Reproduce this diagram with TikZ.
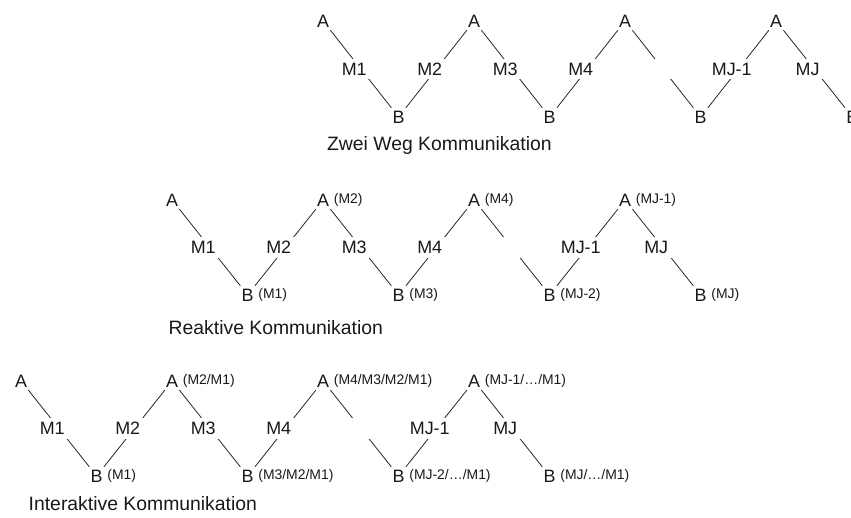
\documentclass[tikz,border=0pt]{standalone}
\usepackage{fontspec}
\setmainfont{Liberation Sans}

\tikzset{
  party/.style={inner sep=2pt, text=black!90, font=\fontsize{13.5}{16}\selectfont},
  msg/.style={midway, xshift=-5pt, fill=white, inner sep=3pt, text=black!90, font=\fontsize{13.5}{16}\selectfont},
  hist/.style={inner sep=1pt, text=black!90, font=\fontsize{10.5}{12}\selectfont},
  rowtitle/.style={anchor=base west, inner sep=0pt, text=black!90, font=\fontsize{14.6}{17}\selectfont},
}

\begin{document}
\begin{tikzpicture}[x=2cm, y=2cm, line width=0.6pt, draw=black!85]
    \useasboundingbox (0,0) rectangle (11.272,-6.861);

    % Zwei Weg
    \node[party] (za1) at (4.28,-0.278) {A};
    \node[party] (zb1) at (5.28,-1.55) {B};
    \node[party] (za2) at (6.28,-0.278) {A};
    \node[party] (zb2) at (7.28,-1.55) {B};
    \node[party] (za3) at (8.28,-0.278) {A};
    \node[party] (zb3) at (9.28,-1.55) {B};
    \node[party] (za4) at (10.28,-0.278) {A};
    \node[party] (zb4) at (11.29,-1.55) {B};

    \draw (za1) -- (zb1) node[msg] (zm1) {M1};
    \draw (zb1) -- (za2) node[msg] (zm2) {M2};
    \draw (za2) -- (zb2) node[msg] (zm3) {M3};
    \draw (zb2) -- (za3) node[msg] (zm4) {M4};
    \draw (za3) -- (zb3) node[msg] (zgap) {\phantom{M5}};
    \draw (zb3) -- (za4) node[msg] (zm5) {MJ-1};
    \draw (za4) -- (zb4) node[msg] (zm6) {MJ};

    \node[rowtitle] (zt) at (4.327,-1.987) {Zwei Weg Kommunikation};

    % Reaktive
    \node[party] (ra1) at (2.28,-2.649) {A};
    \node[party, label={[hist]right:(M1)}] (rb1) at (3.28,-3.907) {B};
    \node[party, label={[hist]right:(M2)}] (ra2) at (4.28,-2.649) {A};
    \node[party, label={[hist]right:(M3)}] (rb2) at (5.28,-3.907) {B};
    \node[party, label={[hist]right:(M4)}] (ra3) at (6.28,-2.649) {A};
    \node[party, label={[hist]right:(MJ-2)}] (rb3) at (7.28,-3.907) {B};
    \node[party, label={[hist]right:(MJ-1)}] (ra4) at (8.28,-2.649) {A};
    \node[party, label={[hist]right:(MJ)}] (rb4) at (9.28,-3.907) {B};

    \draw (ra1) -- (rb1) node[msg] (rm1) {M1};
    \draw (rb1) -- (ra2) node[msg] (rm2) {M2};
    \draw (ra2) -- (rb2) node[msg] (rm3) {M3};
    \draw (rb2) -- (ra3) node[msg] (rm4) {M4};
    \draw (ra3) -- (rb3) node[msg] (rgap) {\phantom{M5}};
    \draw (rb3) -- (ra4) node[msg] (rm5) {MJ-1};
    \draw (ra4) -- (rb4) node[msg] (rm6) {MJ};

    \node[rowtitle] (rt) at (2.229,-4.424) {Reaktive Kommunikation};

    % Interaktive
    \node[party] (ia1) at (0.28,-5.046) {A};
    \node[party, label={[hist]right:(M1)}] (ib1) at (1.28,-6.305) {B};
    \node[party, label={[hist]right:(M2/M1)}] (ia2) at (2.28,-5.046) {A};
    \node[party, label={[hist]right:(M3/M2/M1)}] (ib2) at (3.28,-6.305) {B};
    \node[party, label={[hist]right:(M4/M3/M2/M1)}] (ia3) at (4.28,-5.046) {A};
    \node[party, label={[hist]right:(MJ-2/…/M1)}] (ib3) at (5.28,-6.305) {B};
    \node[party, label={[hist]right:(MJ-1/…/M1)}] (ia4) at (6.28,-5.046) {A};
    \node[party, label={[hist]right:(MJ/…/M1)}] (ib4) at (7.28,-6.305) {B};

    \draw (ia1) -- (ib1) node[msg] (im1) {M1};
    \draw (ib1) -- (ia2) node[msg] (im2) {M2};
    \draw (ia2) -- (ib2) node[msg] (im3) {M3};
    \draw (ib2) -- (ia3) node[msg] (im4) {M4};
    \draw (ia3) -- (ib3) node[msg] (igap) {\phantom{M5}};
    \draw (ib3) -- (ia4) node[msg] (im5) {MJ-1};
    \draw (ia4) -- (ib4) node[msg] (im6) {MJ};

    \node[rowtitle] (it) at (0.375,-6.768) {Interaktive Kommunikation};
\end{tikzpicture}
\end{document}
